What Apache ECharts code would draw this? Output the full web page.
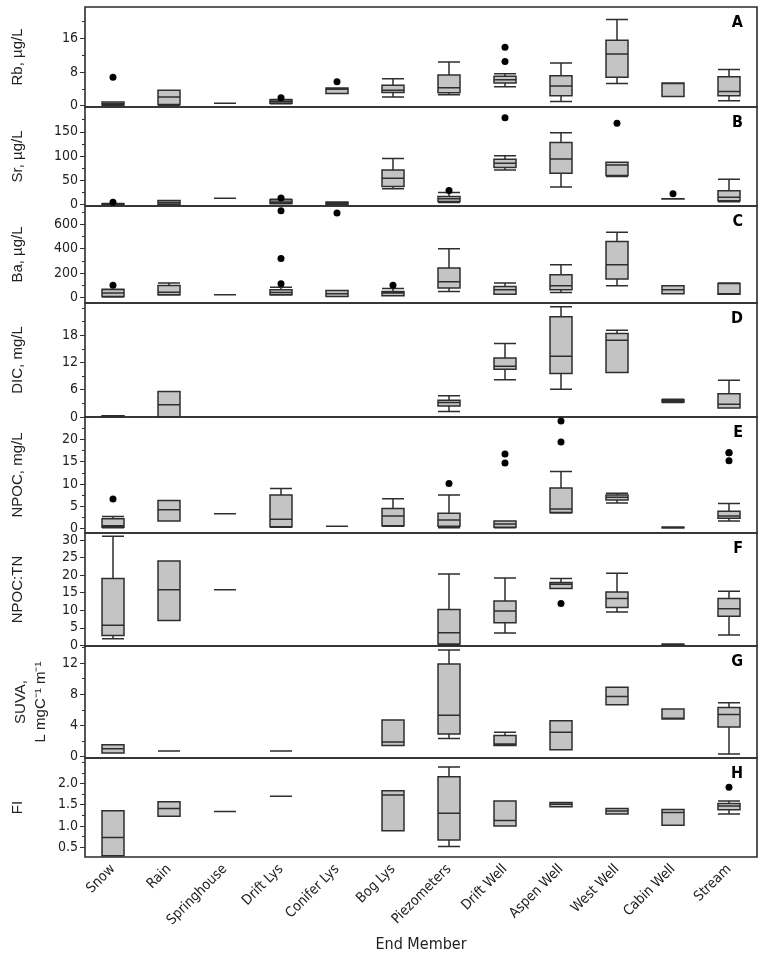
<!DOCTYPE html>
<html>
<head>
<meta charset="utf-8">
<script src="https://cdn.jsdelivr.net/npm/echarts@6/dist/echarts.min.js"></script>
<style>
    html, body { margin: 0; padding: 0; background: #fff; }
    #chart { width: 765px; height: 959px; }
</style>
</head>
<body>
<div id="chart"></div>
<script>
var categories = ['Snow', 'Rain', 'Springhouse', 'Drift Lys', 'Conifer Lys', 'Bog Lys',
    'Piezometers', 'Drift Well', 'Aspen Well', 'West Well', 'Cabin Well', 'Stream'];

// box stats: [min, Q1, median, Q3, max], null = no samples
var rbBoxes = [[0.1, 0.2, 0.5, 0.9, 0.9], [0.1, 0.3, 2.1, 3.7, 3.7], [0.6, 0.6, 0.6, 0.6, 0.6],
    [0.5, 0.6, 1.0, 1.4, 1.5], [2.9, 2.9, 3.9, 4.2, 4.2], [2.1, 3.15, 3.7, 4.9, 6.4],
    [2.6, 3.1, 4.3, 7.3, 10.4], [4.5, 5.4, 6.2, 7.0, 7.6], [1.0, 2.35, 4.7, 7.15, 10.2],
    [5.3, 6.8, 12.3, 15.6, 20.5], [2.2, 2.2, 5.3, 5.4, 5.4], [1.2, 2.35, 3.4, 6.9, 8.6]];
var rbOutliers = [['Snow', 6.8], ['Drift Lys', 1.9], ['Conifer Lys', 5.7], ['Drift Well', 10.5], ['Drift Well', 13.9]];

var srBoxes = [[0.3, 0.6, 1.0, 1.5, 2], [0.3, 0.5, 4, 8.2, 8.2], [13, 13, 13, 13, 13],
    [1.4, 2, 5, 10, 11], [0.3, 0.5, 2, 5, 5], [32.3, 37, 54.3, 71.4, 94.7],
    [4, 6.2, 11.7, 16.5, 24.7], [71.4, 76.2, 85.2, 93.4, 100.8], [36.4, 64.6, 94, 128, 148],
    [58, 60, 81.7, 87.3, 87.3], [11.3, 11.5, 11.7, 11.9, 12], [6, 7.6, 15.2, 28.2, 52.3]];
var srOutliers = [['Snow', 4.9], ['Drift Lys', 13.5], ['Piezometers', 28.8], ['Drift Well', 179],
    ['West Well', 167.5], ['Cabin Well', 22]];

var baBoxes = [[5, 8, 36, 65, 68], [20, 22, 44, 99, 118], [22, 22, 22, 22, 22],
    [20, 22, 41, 63, 85], [8, 8, 30, 57, 57], [14, 14, 36, 49, 74],
    [49, 77, 129, 241, 400], [27, 27, 63, 90, 118], [41, 63, 96, 186, 268],
    [96, 151, 268, 460, 534], [30, 30, 63, 96, 96], [27, 27, 30, 115, 118]];
var baOutliers = [['Snow', 101], ['Drift Lys', 112], ['Drift Lys', 320], ['Drift Lys', 712],
    ['Conifer Lys', 693], ['Bog Lys', 101]];

var dicBoxes = [[0.1, 0.15, 0.2, 0.25, 0.3], [0.05, 0.05, 2.7, 5.6, 5.6], null, null, null, null,
    [1.2, 2.4, 3.2, 3.7, 4.7], [8.2, 10.5, 11.2, 13, 16.2], [6.1, 9.6, 13.4, 22.1, 24.3],
    [9.8, 9.8, 16.9, 18.4, 19.1], [3.2, 3.3, 3.5, 3.8, 3.9], [2.0, 2.0, 2.8, 5.1, 8.1]];
var dicOutliers = [];

var npocBoxes = [[0.2, 0.3, 0.6, 2.2, 2.7], [1.7, 1.7, 4.2, 6.3, 6.3], [3.3, 3.3, 3.3, 3.3, 3.3],
    [0.3, 0.4, 2.1, 7.5, 9.0], [0.5, 0.5, 0.5, 0.5, 0.5], [0.5, 0.6, 2.8, 4.5, 6.7],
    [0.2, 0.5, 1.9, 3.4, 7.5], [0.2, 0.3, 1.0, 1.7, 1.7], [3.5, 3.6, 4.4, 9.1, 12.8],
    [5.7, 6.4, 7.0, 7.5, 7.9], [0.1, 0.15, 0.2, 0.3, 0.35], [1.7, 2.3, 2.8, 3.9, 5.6]];
var npocOutliers = [['Snow', 6.6], ['Piezometers', 10.1], ['Drift Well', 14.7], ['Drift Well', 16.7],
    ['Aspen Well', 19.4], ['Aspen Well', 24.1], ['Stream', 15.2], ['Stream', 17], ['Stream', 17]];

var ratioBoxes = [[1.9, 2.8, 5.7, 19, 31.1], [7.1, 7.1, 15.8, 24, 24], [15.8, 15.8, 15.8, 15.8, 15.8],
    null, null, null,
    [0, 0.4, 3.6, 10.2, 20.3], [3.5, 6.4, 9.8, 12.6, 19.2], [16.2, 16.2, 17.4, 17.9, 19.0],
    [9.5, 10.8, 13.3, 15.2, 20.5], [0.1, 0.15, 0.2, 0.3, 0.35], [2.9, 8.3, 10.4, 13.3, 15.4]];
var ratioOutliers = [['Aspen Well', 11.9]];

var suvaBoxes = [[0.43, 0.43, 1.0, 1.5, 1.5], [0.7, 0.7, 0.7, 0.7, 0.7], null,
    [0.7, 0.7, 0.7, 0.7, 0.7], null, [1.4, 1.4, 1.85, 4.7, 4.7],
    [2.3, 2.9, 5.3, 11.9, 13.7], [1.4, 1.4, 1.6, 2.7, 3.1], [0.86, 0.86, 3.1, 4.6, 4.6],
    [6.65, 6.65, 7.7, 8.9, 8.9], [4.8, 4.8, 4.9, 6.1, 6.1], [0.3, 3.8, 5.4, 6.3, 6.9]];
var suvaOutliers = [];

var fiBoxes = [[0.3, 0.3, 0.73, 1.36, 1.36], [1.23, 1.23, 1.41, 1.57, 1.57], [1.34, 1.34, 1.34, 1.34, 1.34],
    [1.70, 1.70, 1.70, 1.70, 1.70], null, [0.89, 0.89, 1.73, 1.83, 1.83],
    [0.52, 0.67, 1.30, 2.16, 2.39], [1.0, 1.0, 1.13, 1.59, 1.59], [1.45, 1.45, 1.51, 1.55, 1.55],
    [1.28, 1.28, 1.35, 1.41, 1.41], [1.02, 1.02, 1.32, 1.39, 1.39], [1.28, 1.38, 1.47, 1.53, 1.59]];
var fiOutliers = [['Stream', 1.91]];

// tick labels per panel
var rbTicks = [0, 8, 16], rbMinor = [4, 12, 20];
var srTicks = [0, 50, 100, 150], srMinor = [25, 75, 125, 175];
var baTicks = [0, 200, 400, 600], baMinor = [100, 300, 500, 700];
var dicTicks = [0, 6, 12, 18], dicMinor = [3, 9, 15, 21, 24];
var npocTicks = [0, 5, 10, 15, 20], npocMinor = [2.5, 7.5, 12.5, 17.5, 22.5];
var ratioTicks = [0, 5, 10, 15, 20, 25, 30], ratioMinor = [];
var suvaTicks = [0, 4, 8, 12], suvaMinor = [2, 6, 10, 14];
var fiTicks = [0.5, 1.0, 1.5, 2.0], fiMinor = [0.75, 1.25, 1.75, 2.25, 2.5];

var panels = [
    { name: 'Rb, µg/L', letter: 'A', min: -0.3, max: 23.5, ticks: rbTicks, minor: rbMinor, boxes: rbBoxes, outliers: rbOutliers, top: 7, height: 100 },
    { name: 'Sr, µg/L', letter: 'B', min: -3, max: 201, ticks: srTicks, minor: srMinor, boxes: srBoxes, outliers: srOutliers, top: 107, height: 99 },
    { name: 'Ba, µg/L', letter: 'C', min: -45, max: 750, ticks: baTicks, minor: baMinor, boxes: baBoxes, outliers: baOutliers, top: 206, height: 97 },
    { name: 'DIC, mg/L', letter: 'D', min: 0, max: 25.1, ticks: dicTicks, minor: dicMinor, boxes: dicBoxes, outliers: dicOutliers, top: 303, height: 114 },
    { name: 'NPOC, mg/L', letter: 'E', min: -1, max: 25, ticks: npocTicks, minor: npocMinor, boxes: npocBoxes, outliers: npocOutliers, top: 417, height: 116 },
    { name: 'NPOC:TN', letter: 'F', min: -0.2, max: 32, ticks: ratioTicks, minor: ratioMinor, boxes: ratioBoxes, outliers: ratioOutliers, top: 533, height: 113 },
    { name: 'SUVA,\nL mgC\u207B\u00B9 m\u207B\u00B9', letter: 'G', min: -0.2, max: 14.2, ticks: suvaTicks, minor: suvaMinor, boxes: suvaBoxes, outliers: suvaOutliers, top: 646, height: 112, gap: 30 },
    { name: 'FI', letter: 'H', min: 0.27, max: 2.6, ticks: fiTicks, minor: fiMinor, boxes: fiBoxes, outliers: fiOutliers, top: 758, height: 99, digits: 1 }
];

var narrow = '"DejaVu Sans Condensed", "Liberation Sans Narrow", "Liberation Sans", sans-serif';
var regular = '"Liberation Sans", Arial, sans-serif';

var grids = [], xAxes = [], yAxes = [], series = [], graphics = [];
var last = panels.length - 1;

panels.forEach(function(p, i) {
    grids.push({
        left: 85, right: 8, top: p.top, height: p.height,
        show: true, borderColor: '#2b2b2b', borderWidth: 1.6, backgroundColor: 'transparent'
    });
    xAxes.push({
        type: 'category', gridIndex: i, data: categories,
        axisLine: { show: false }, axisTick: { show: false },
        axisLabel: i === last ? {
            show: true, rotate: 45, interval: 0, margin: 10, padding: [12, 0, 0, 0],
            fontFamily: narrow, fontSize: 14, color: '#222'
        } : { show: false },
        name: i === last ? 'End Member' : '',
        nameLocation: 'middle', nameGap: 80,
        nameTextStyle: { fontFamily: narrow, fontSize: 16, color: '#222' }
    });
    yAxes.push({
        type: 'value', gridIndex: i, min: p.min, max: p.max,
        axisLine: { show: false },
        axisTick: { show: true, customValues: p.ticks, length: 5, lineStyle: { color: '#333', width: 1 } },
        axisLabel: {
            customValues: p.ticks, fontFamily: narrow, fontSize: 14, color: '#222', margin: 7,
            formatter: function(v) { return p.digits ? Number(v).toFixed(p.digits) : String(v); }
        },
        splitLine: { show: false },
        name: p.name, nameLocation: 'middle', nameRotate: 90, nameGap: p.gap || 57,
        nameTextStyle: { fontFamily: regular, fontSize: 15, color: '#222', lineHeight: 20 }
    });
    yAxes.push({
        type: 'value', gridIndex: i, min: p.min, max: p.max, position: 'left',
        axisLine: { show: false },
        axisTick: { show: p.minor.length > 0, customValues: p.minor, length: 3, lineStyle: { color: '#333', width: 1 } },
        axisLabel: { show: false },
        splitLine: { show: false }
    });
    series.push({
        type: 'boxplot', xAxisIndex: i, yAxisIndex: i * 2,
        data: p.boxes.map(function(b) { return b ? b : ['-', '-', '-', '-', '-']; }),
        boxWidth: [22, 22],
        itemStyle: { color: '#c4c4c4', borderColor: '#2e2e2e', borderWidth: 1.5 },
        emphasis: { disabled: true },
        silent: true
    });
    series.push({
        type: 'scatter', xAxisIndex: i, yAxisIndex: i * 2,
        data: p.outliers, symbol: 'circle', symbolSize: 7,
        itemStyle: { color: '#000', opacity: 1 }, silent: true
    });
    graphics.push({
        type: 'text', right: 22, top: p.top + 8,
        style: { text: p.letter, font: 'bold 16px ' + narrow, fill: '#000' }
    });
});

var myChart = echarts.init(document.getElementById('chart'));
myChart.setOption({
    backgroundColor: '#fff',
    animation: false,
    grid: grids,
    xAxis: xAxes,
    yAxis: yAxes,
    series: series,
    graphic: graphics
});
</script>
</body>
</html>
